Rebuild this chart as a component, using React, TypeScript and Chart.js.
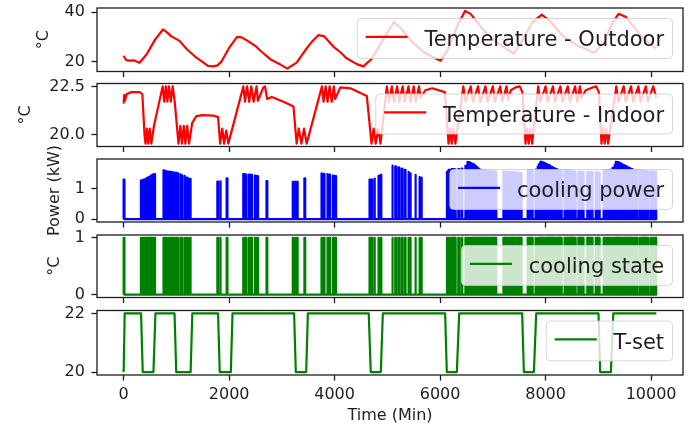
import React, { useEffect, useRef } from "react";
import { Chart, registerables } from "chart.js";

Chart.register(...registerables);

// ---------------- data ----------------
const simEnd = 10100;
const xTickValues = [0, 2000, 4000, 6000, 8000, 10000];
const xTickLabels = ["0", "2000", "4000", "6000", "8000", "10000"];

const outdoorTime = [
  0, 50, 110, 200, 300, 430, 600, 745, 810, 900, 1060, 1190, 1380, 1500, 1600, 1700, 1780, 1850,
  2013, 2150, 2240, 2380, 2500, 2600, 2780, 2960, 3100, 3280, 3450, 3560, 3690, 3800, 3980, 4110,
  4220, 4420, 4545, 4700, 4911, 5124, 5266, 5479, 5692, 5905, 6011, 6153, 6330, 6472, 6579, 6827,
  7111, 7400, 7537, 7750, 7928, 8070, 8318, 8602, 8930, 9099, 9277, 9383, 9525, 9809, 10057, 10100,
];
const outdoorTemp = [
  22.4, 20.6, 20.4, 20.5, 19.6, 22.8, 29.0, 33.0, 32.0, 30.3, 28.4, 25.2, 21.6, 19.8, 18.3, 18.1, 18.5, 19.9,
  26.0, 30.0, 29.8, 28.0, 26.3, 24.3, 21.0, 19.0, 17.2, 19.6, 24.8, 27.8, 30.7, 30.3, 26.0, 23.8,
  21.5, 19.0, 18.1, 21.1, 28.5, 36.0, 33.2, 27.8, 23.8, 21.4, 20.4, 25.1, 34.6, 40.5, 39.3, 32.6,
  27.2, 23.3, 27.8, 36.0, 39.0, 36.6, 30.5, 26.5, 23.6, 27.8, 36.0, 39.3, 38.0, 30.5, 25.8, 25.5,
];

const indoorTime = [
  0, 10, 25, 60, 150, 300, 355, 395, 415, 440, 465, 495, 525, 575, 740, 770, 800, 830, 860, 895, 930, 965,
  1040, 1075, 1105, 1140, 1170, 1205, 1240, 1300, 1380, 1500, 1700, 1790, 1830, 1870, 1905, 1945, 1985,
  2270, 2300, 2340, 2380, 2420, 2465, 2520, 2545, 2650, 2680, 2720, 2810, 3030, 3220, 3280, 3320, 3370,
  3420, 3470, 3760, 3790, 3830, 3865, 3905, 3945, 3985, 4010, 4110, 4300, 4610, 4700, 4740, 4780, 4830,
  4870, 4990, 5030, 5085, 5125, 5185, 5225, 5290, 5330, 5400, 5440, 5500, 5540, 5600, 5630, 5720, 5850,
  6090, 6160, 6190, 6220, 6250, 6290, 6440, 6480, 6580, 6620, 6720, 6760, 6860, 6900, 7000, 7040, 7140,
  7180, 7260, 7290, 7340, 7430, 7510, 7560, 7620, 7650, 7680, 7710, 7745, 7860, 7900, 8000, 8040, 8140,
  8180, 8280, 8320, 8420, 8460, 8560, 8600, 8650, 8680, 8760, 8900, 8960, 9010, 9060, 9090, 9120, 9150,
  9185, 9340, 9380, 9480, 9520, 9620, 9660, 9760, 9800, 9900, 9940, 10040, 10100,
];
const indoorTemp = [
  21.6, 22.05, 21.75, 22.1, 22.2, 22.2, 22.1, 20.0, 19.52, 20.3, 19.52, 20.3, 19.52, 20.45, 22.5, 21.7, 22.5, 21.7, 22.5, 21.7, 22.5, 21.8,
  19.52, 20.45, 19.52, 20.45, 19.52, 20.45, 19.52, 20.6, 20.95, 21.0, 20.98, 20.9, 19.52, 20.3, 19.52, 20.2, 19.52,
  22.5, 21.7, 22.5, 21.7, 22.5, 21.7, 22.5, 21.75, 22.45, 22.5, 21.85, 21.95, 21.7, 21.45, 19.52, 20.3, 19.52,
  20.3, 19.52, 22.5, 21.7, 22.5, 21.7, 22.5, 21.7, 22.5, 21.85, 22.45, 22.4, 22.0, 19.52, 20.3, 19.52, 20.3,
  19.52, 22.5, 21.7, 22.5, 21.7, 22.5, 21.7, 22.5, 21.7, 22.5, 21.7, 22.5, 21.7, 22.5, 21.9, 22.3, 22.4,
  22.2, 19.52, 20.3, 19.52, 20.3, 19.52, 22.5, 21.7, 22.5, 21.7, 22.5, 21.7, 22.5, 21.7, 22.5, 21.7, 22.5,
  21.7, 22.5, 21.8, 22.3, 22.45, 22.5, 22.2, 19.52, 20.3, 19.52, 20.3, 19.52, 22.5, 21.7, 22.5, 21.7, 22.5,
  21.7, 22.5, 21.7, 22.5, 21.7, 22.5, 21.7, 22.5, 21.9, 22.3, 22.45, 22.5, 22.2, 19.52, 20.3, 19.52, 20.3,
  19.52, 22.5, 21.7, 22.5, 21.7, 22.5, 21.7, 22.5, 21.7, 22.5, 21.7, 22.5, 21.9,
];

// cooling cycles: start time of each "on" period and the power drawn (kW)
const coolingOnMinutes = 15;
const coolingStart = [
  0, 328, 378, 422, 452, 485, 517, 548, 580, 756, 800, 844, 875, 907, 945, 989, 1021, 1071, 1096, 1147, 1197, 1254,
  1777, 1827, 1953, 2268, 2312, 2375, 2419, 2489, 2533, 2709, 3207, 3250, 3289, 3427, 3742, 3793, 3856, 3900, 3969, 4013,
  4662, 4700, 4750, 4823, 4870, 5089, 5150, 5210, 5270, 5330, 5393, 5430, 5526, 5602, 5640,
  6130, 6160, 6190, 6220, 6250, 6280, 6345, 6405, 6480, 6510, 6540, 6570, 6600, 6630, 6660, 6690, 6720, 6750, 6780,
  6810, 6840, 6870, 6900, 6930, 6960, 6990, 7020, 7050, 7200, 7230, 7260, 7290, 7320, 7350, 7380, 7410, 7440, 7470,
  7500, 7530, 7650, 7680, 7710, 7740, 7800, 7840, 7870, 7900, 7930, 7960, 7990, 8020, 8050, 8080, 8110, 8140, 8170,
  8200, 8230, 8260, 8290, 8350, 8380, 8410, 8440, 8470, 8500, 8530, 8560, 8620, 8650, 8680, 8710, 8790, 8820, 8850,
  8880, 8950, 8980, 9010, 9100, 9130, 9160, 9190, 9220, 9270, 9300, 9330, 9360, 9390, 9420, 9450, 9480, 9510, 9540,
  9570, 9600, 9630, 9660, 9690, 9720, 9780, 9810, 9840, 9870, 9900, 9930, 9990, 10020, 10050, 10080,
];
const coolingPower = [
  1.3, 1.27, 1.3, 1.33, 1.36, 1.38, 1.43, 1.46, 1.48, 1.6, 1.58, 1.56, 1.55, 1.54, 1.53, 1.52, 1.5, 1.47, 1.44, 1.42, 1.36, 1.32,
  1.23, 1.24, 1.34, 1.48, 1.47, 1.46, 1.45, 1.43, 1.41, 1.25, 1.22, 1.23, 1.23, 1.34, 1.5, 1.49, 1.48, 1.46, 1.43, 1.41,
  1.3, 1.3, 1.33, 1.42, 1.45, 1.76, 1.73, 1.7, 1.66, 1.62, 1.55, 1.5, 1.45, 1.38, 1.36,
  1.55, 1.62, 1.62, 1.64, 1.64, 1.63, 1.64, 1.66, 1.75, 1.88, 1.87, 1.85, 1.82, 1.79, 1.75, 1.71, 1.67, 1.63, 1.6,
  1.6, 1.59, 1.59, 1.58, 1.58, 1.57, 1.57, 1.56, 1.56, 1.56, 1.56, 1.55, 1.55, 1.55, 1.54, 1.54, 1.54, 1.53, 1.53,
  1.52, 1.52, 1.6, 1.6, 1.61, 1.61, 1.63, 1.72, 1.8, 1.88, 1.87, 1.85, 1.83, 1.8, 1.77, 1.74, 1.71, 1.68, 1.66,
  1.64, 1.62, 1.61, 1.6, 1.6, 1.59, 1.59, 1.58, 1.58, 1.57, 1.57, 1.56, 1.56, 1.56, 1.55, 1.55, 1.55, 1.55, 1.54,
  1.54, 1.54, 1.53, 1.53, 1.6, 1.6, 1.61, 1.61, 1.62, 1.68, 1.78, 1.88, 1.87, 1.85, 1.83, 1.8, 1.77, 1.74, 1.71,
  1.68, 1.66, 1.64, 1.62, 1.61, 1.6, 1.6, 1.59, 1.59, 1.58, 1.58, 1.57, 1.57, 1.56, 1.56, 1.55,
];

const tsetTime = [
  0, 20, 330, 362, 565, 603, 965, 997, 1270, 1302, 1790, 1822, 2032, 2064, 3232, 3264, 3461, 3493,
  4647, 4685, 4876, 4914, 6095, 6127, 6317, 6362, 7556, 7588, 7778, 7822, 9003, 9035, 9238, 9283, 10100,
];
const tsetValue = [
  20, 22, 22, 20, 20, 22, 22, 20, 20, 22, 22, 20, 20, 22, 22, 20, 20, 22,
  22, 20, 20, 22, 22, 20, 20, 22, 22, 20, 20, 22, 22, 20, 20, 22, 22,
];

const outdoorTicks = [20, 40];
const outdoorTickLabels = ["20", "40"];
const indoorTicks = [20, 22.5];
const indoorTickLabels = ["20.0", "22.5"];
const powerTicks = [0, 1];
const powerTickLabels = ["0", "1"];
const stateTicks = [0, 1];
const stateTickLabels = ["0", "1"];
const tsetTicks = [20, 22];
const tsetTickLabels = ["20", "22"];

// ---------------- helpers ----------------
type Pt = { x: number; y: number };

function zipPoints(xs: number[], ys: number[]): Pt[] {
  return xs.map((x, i) => ({ x, y: ys[i] }));
}

function pulsePoints(starts: number[], levels: number[], onMin: number, end: number): Pt[] {
  const pts: Pt[] = [];
  starts.forEach((s, i) => {
    pts.push({ x: s, y: 0 }, { x: s, y: levels[i] }, { x: s + onMin, y: levels[i] }, { x: s + onMin, y: 0 });
  });
  pts.push({ x: end, y: 0 });
  return pts;
}

const FONT = "'DejaVu Sans', 'Liberation Sans', sans-serif";
const TEXT = "#1e1e1e";
const FRAME = "#1e1e1e";

const frameLegendPlugin = {
  id: "frameLegend",
  afterDatasetsDraw(chart: any) {
    const { ctx, chartArea: a } = chart;
    ctx.save();
    ctx.strokeStyle = FRAME;
    ctx.lineWidth = 1.3;
    ctx.strokeRect(a.left, a.top, a.right - a.left, a.bottom - a.top);
    ctx.restore();
  },
  afterDraw(chart: any, _args: any, opts: any) {
    const { ctx, chartArea: a } = chart;
    // y-axis label (rotated), placed like matplotlib's ylabel
    if (opts.yTitle) {
      ctx.save();
      ctx.translate(opts.yTitleX, (a.top + a.bottom) / 2);
      ctx.rotate(-Math.PI / 2);
      ctx.font = `16px ${FONT}`;
      ctx.fillStyle = TEXT;
      ctx.textAlign = "center";
      ctx.textBaseline = "middle";
      ctx.fillText(opts.yTitle, 0, 0);
      ctx.restore();
    }
    // legend box (upper right)
    const fs = 21;
    ctx.save();
    ctx.font = `${fs}px ${FONT}`;
    const tw = ctx.measureText(opts.label).width;
    const pad = 0.4 * fs;
    const hl = 2 * fs;
    const htp = 0.8 * fs;
    const w = pad + hl + htp + tw + pad;
    const h = 2 * pad + 1.1 * fs;
    const right = a.right - 0.5 * fs;
    const top = a.top + 0.5 * fs;
    const left = right - w;
    ctx.beginPath();
    ctx.roundRect(left, top, w, h, 4);
    ctx.fillStyle = "rgba(255,255,255,0.8)";
    ctx.fill();
    ctx.strokeStyle = "rgba(204,204,204,0.8)";
    ctx.lineWidth = 1;
    ctx.stroke();
    const cy = top + h / 2;
    ctx.beginPath();
    ctx.moveTo(left + pad, cy - 1.5);
    ctx.lineTo(left + pad + hl, cy - 1.5);
    ctx.strokeStyle = opts.color;
    ctx.lineWidth = 2.2;
    ctx.stroke();
    ctx.fillStyle = TEXT;
    ctx.textBaseline = "alphabetic";
    ctx.textAlign = "left";
    ctx.fillText(opts.label, left + pad + hl + htp, cy + 0.365 * fs);
    ctx.restore();
  },
};

type Panel = {
  top: number;
  bottom: number;
  label: string;
  color: string;
  points: Pt[];
  ticks: number[];
  tickLabels: string[];
  yTitle: string;
  yTitleX: number;
  showX: boolean;
};

const panels: Panel[] = [
  {
    top: 8, bottom: 71.5, label: "Temperature - Outdoor", color: "#ff0000",
    points: zipPoints(outdoorTime, outdoorTemp), ticks: outdoorTicks, tickLabels: outdoorTickLabels,
    yTitle: "°C", yTitleX: 44, showX: false,
  },
  {
    top: 83.5, bottom: 146.5, label: "Temperature - Indoor", color: "#ff0000",
    points: zipPoints(indoorTime, indoorTemp), ticks: indoorTicks, tickLabels: indoorTickLabels,
    yTitle: "°C", yTitleX: 26, showX: false,
  },
  {
    top: 159, bottom: 222, label: "cooling power", color: "#0000ff",
    points: pulsePoints(coolingStart, coolingPower, coolingOnMinutes, simEnd), ticks: powerTicks, tickLabels: powerTickLabels,
    yTitle: "Power (kW)", yTitleX: 54.5, showX: false,
  },
  {
    top: 235, bottom: 297.5, label: "cooling state", color: "#008000",
    points: pulsePoints(coolingStart, coolingStart.map(() => 1), coolingOnMinutes, simEnd), ticks: stateTicks, tickLabels: stateTickLabels,
    yTitle: "°C", yTitleX: 54.5, showX: false,
  },
  {
    top: 310.5, bottom: 375, label: "T-set", color: "#008000",
    points: zipPoints(tsetTime, tsetValue), ticks: tsetTicks, tickLabels: tsetTickLabels,
    yTitle: "", yTitleX: 0, showX: true,
  },
];

function layoutOf(p: Panel) {
  const canvasTop = Math.floor(p.top) - 22;
  const padTop = p.top - canvasTop;
  const canvasBottom = p.showX ? 428 : Math.ceil(p.bottom) + 24;
  const height = canvasBottom - canvasTop;
  const xAxisH = height - padTop - (p.bottom - p.top);
  return { canvasTop, padTop, height, xAxisH };
}

function zeroPadding(s: any) {
  s.paddingTop = 0;
  s.paddingBottom = 0;
  s.paddingLeft = 0;
  s.paddingRight = 0;
}

function makeConfig(p: Panel): any {
  const { padTop, xAxisH } = layoutOf(p);
  const ys = p.points.map((pt) => pt.y);
  const lo = Math.min(...ys);
  const hi = Math.max(...ys);
  const ym = (hi - lo) * 0.05;
  const xm = simEnd * 0.05;
  const font = { family: FONT, size: 16 };
  const grid = {
    display: true,
    drawOnChartArea: false,
    drawTicks: true,
    tickLength: 5.6,
    tickWidth: 1.3,
    tickColor: FRAME,
  };
  return {
    type: "line",
    data: {
      datasets: [
        {
          data: p.points,
          borderColor: p.color,
          borderWidth: 2.2,
          pointRadius: 0,
          fill: false,
          tension: 0,
          borderJoinStyle: "round",
        },
      ],
    },
    options: {
      responsive: false,
      animation: false,
      devicePixelRatio: 1,
      events: [],
      parsing: false,
      normalized: true,
      layout: { padding: { top: padTop, left: 0, right: 5, bottom: 0 } },
      plugins: {
        legend: { display: false },
        tooltip: { enabled: false },
        frameLegend: { label: p.label, color: p.color, yTitle: p.yTitle, yTitleX: p.yTitleX },
      },
      scales: {
        x: {
          type: "linear",
          min: -xm,
          max: simEnd + xm,
          afterBuildTicks: (s: any) => {
            s.ticks = xTickValues.map((v) => ({ value: v }));
          },
          afterFit: (s: any) => {
            s.height = xAxisH;
            zeroPadding(s);
          },
          ticks: {
            display: p.showX,
            font,
            color: TEXT,
            padding: 5,
            maxRotation: 0,
            autoSkip: false,
            callback: (_v: any, i: number) => xTickLabels[i],
          },
          grid,
          border: { display: false },
          title: p.showX
            ? { display: true, text: "Time (Min)", font, color: TEXT, padding: { top: 0, bottom: 2.4 } }
            : { display: false },
        },
        y: {
          type: "linear",
          min: lo - ym,
          max: hi + ym,
          afterBuildTicks: (s: any) => {
            s.ticks = p.ticks.map((v) => ({ value: v }));
          },
          afterFit: (s: any) => {
            s.width = 97;
            zeroPadding(s);
          },
          ticks: {
            font,
            color: TEXT,
            padding: 6.5,
            autoSkip: false,
            callback: (_v: any, i: number) => p.tickLabels[i],
          },
          grid,
          border: { display: false },
          title: { display: false },
        },
      },
    },
    plugins: [frameLegendPlugin],
  };
}

export default function App() {
  const canvases = useRef<(HTMLCanvasElement | null)[]>([]);

  useEffect(() => {
    const charts = panels.map((p, i) => new Chart(canvases.current[i] as HTMLCanvasElement, makeConfig(p)));
    return () => charts.forEach((c) => c.destroy());
  }, []);

  return (
    <div style={{ position: "absolute", left: 0, top: 0, width: 688, height: 428, background: "#fff", overflow: "hidden" }}>
      {panels.map((p, i) => {
        const L = layoutOf(p);
        return (
          <canvas
            key={i}
            ref={(el) => {
              canvases.current[i] = el;
            }}
            width={688}
            height={L.height}
            style={{ position: "absolute", left: 0, top: L.canvasTop, width: 688, height: L.height }}
          />
        );
      })}
    </div>
  );
}
